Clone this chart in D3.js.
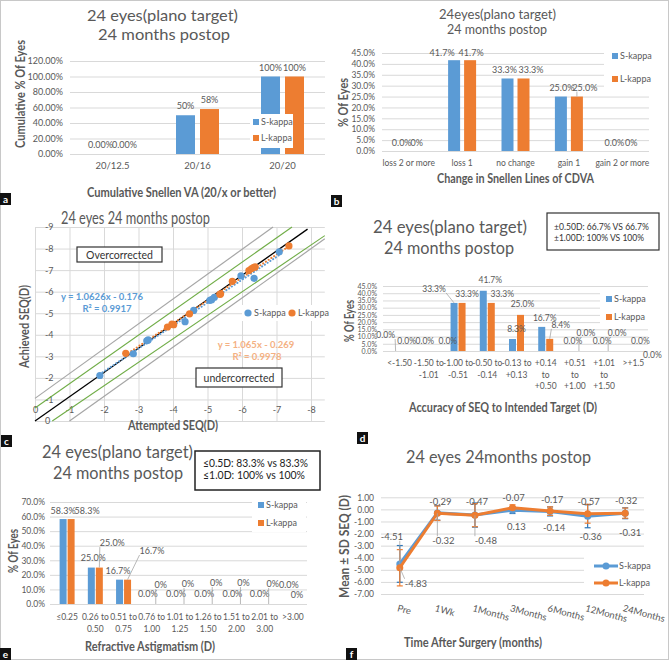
<!DOCTYPE html>
<html><head><meta charset="utf-8">
<script src="https://cdn.jsdelivr.net/npm/d3@7"></script>
<style>body{margin:0;background:#fff} svg{display:block} text{font-family:Lato,"Open Sans",sans-serif}</style>
</head><body><svg id="c" width="669" height="660"></svg>
<script>
// ---------------- DATA ----------------
const seriesNames = ["S-kappa","L-kappa"];
// (a) cumulative Snellen VA
const snellenCats = ["20/12.5","20/16","20/20"];
const snellenS = [0,50,100];
const snellenL = [0,58,100];
const snellenLabelsS = ["0.00%","50%","100%"];
const snellenLabelsL = ["0.00%","58%","100%"];
const snellenTicks = [0,20,40,60,80,100,120];
// (b) change in Snellen lines of CDVA
const cdvaCats = ["loss 2 or more","loss 1","no change","gain 1","gain 2 or more"];
const cdvaS = [0,41.7,33.3,25.0,0];
const cdvaL = [0,41.7,33.3,25.0,0];
const cdvaLabelsS = ["0.0%","41.7%","33.3%","25.0%","0.0%"];
const cdvaLabelsL = ["0%","41.7%","33.3%","25.0%","0%"];
const cdvaTicks = [0,5,10,15,20,25,30,35,40,45];
// (c) attempted vs achieved SEQ
const attemptedS = [-1.88,-2.85,-3.24,-3.28,-4.35,-4.6,-5.07,-5.12,-5.2,-5.97,-6.35,-7.08];
const achievedS  = [-2.11,-3.12,-3.72,-3.76,-4.61,-5.13,-5.6,-5.63,-5.74,-6.73,-6.62,-7.85];
const attemptedL = [-2.63,-3.84,-3.97,-4.02,-4.48,-5.36,-5.38,-5.72,-6.2,-6.27,-6.33,-6.38,-7.36];
const achievedL  = [-3.14,-4.36,-4.49,-4.47,-4.97,-5.87,-5.9,-6.48,-6.98,-7.06,-7.12,-7.15,-8.12];
const trendS = {slope:1.0626, intercept:-0.176, r2:"0.9917"};
const trendL = {slope:1.065, intercept:-0.269, r2:"0.9978"};
const seqTicksX = [0,-1,-2,-3,-4,-5,-6,-7,-8];
const seqTicksY = [0,-1,-2,-3,-4,-5,-6,-7,-8,-9];
// reference lines as drawn in the figure: [x1,y1,x2,y2]
const refBlack = [0,0,-7.9,-8.9];
const refGreen = [[0,-0.6,-7.45,-9.0],[-0.5,0,-8.4,-8.6]];
const refGray  = [[0,-1.05,-6.9,-9.0],[-1,0,-8.4,-8.45]];
// (d) accuracy of SEQ
const accCats = ["<-1.50","-1.50 to -1.01","-1.00 to -0.51","-0.50 to -0.14","-0.13 to +0.13","+0.14 to +0.50","+0.51 to +1.00","+1.01 to +1.50",">+1.5"];
const accS = [0,0,33.3,41.7,8.3,16.7,0,0,0];
const accL = [0,0,33.3,33.3,25.0,8.4,0,0,0];
const accLabelsS = ["0.0%","0.0%","33.3%","41.7%","8.3%","16.7%","0.0%","0.0%","0.0%"];
const accLabelsL = ["0.0%","0.0%","33.3%","33.3%","25.0%","8.4%","0.0%","0.0%","0.0%"];
const accTicks = [0,5,10,15,20,25,30,35,40,45];
// (e) refractive astigmatism
const astigCats = ["≤0.25","0.26 to 0.50","0.51 to 0.75","0.76 to 1.00","1.01 to 1.25","1.26 to 1.50","1.51 to 2.00","2.01 to 3.00",">3.00"];
const astigS = [58.3,25.0,16.7,0,0,0,0,0,0];
const astigL = [58.3,25.0,16.7,0,0,0,0,0,0];
const astigLabelsS = ["58.3%","25.0%","16.7%","0.0%","0.0%","0.0%","0.0%","0.0%","0.0%"];
const astigLabelsL = ["58.3%","25.0%","16.7%","0%","0%","0%","0%","0%","0%"];
const astigTicks = [0,10,20,30,40,50,60,70];
// (f) mean ± SD SEQ over time
const timeCats = ["Pre","1Wk","1Months","3Months","6Months","12Months","24Months"];
const meanS = [-4.51,-0.29,-0.47,-0.07,-0.17,-0.57,-0.32];
const meanL = [-4.83,-0.32,-0.48,0.13,-0.14,-0.36,-0.31];
const sdS = [1.52,0.6,1.0,0.27,0.37,0.95,0.45];
const sdL = [1.5,0.6,0.95,0.25,0.35,0.78,0.42];
const timeTicks = [1,0,-1,-2,-3,-4,-5,-6,-7];

// ---------------- STYLE ----------------
const svg = d3.select("#c");
const GRAY="#595959", GRID="#d9d9d9", BLUE="#5B9BD5", ORANGE="#ED7D31", FONT='Lato,"Open Sans",sans-serif';

function txt(x,y,s,o={}){
  const t=svg.append("text").attr("x",x).attr("y",y).text(s)
    .attr("fill",o.fill||GRAY).attr("font-size",o.size||9)
    .attr("text-anchor",o.anchor||"middle");
  if(o.weight) t.attr("font-weight",o.weight);
  if(o.len) t.attr("textLength",o.len).attr("lengthAdjust","spacingAndGlyphs");
  if(o.rotate!==undefined) t.attr("transform",`rotate(${o.rotate},${x},${y})`);
  return t;
}
function leader(t,bx,by){
  const bb=t.node().getBBox();
  const px=Math.max(bb.x,Math.min(bx,bb.x+bb.width));
  let py = by>bb.y+bb.height ? bb.y+bb.height-1 : (by<bb.y ? bb.y+1 : by);
  svg.append("line").attr("x1",px).attr("y1",py).attr("x2",bx).attr("y2",by)
    .attr("stroke","#a6a6a6").attr("stroke-width",0.8);
}
function styleAxis(g,size){
  g.attr("font-family",FONT).attr("font-size",size);
  g.select(".domain").remove();
  g.selectAll(".tick line").attr("stroke",GRID);
  g.selectAll(".tick text").attr("fill",GRAY);
}
const pct = k => d => d.toFixed(k)+"%";

function barPanel(o){
  const x=d3.scaleBand().domain(o.cats).range(o.xr);
  const y=d3.scaleLinear().domain([0,o.ymax]).range([o.yb,o.yt]);
  const g=svg.append("g").attr("transform",`translate(${o.gx[0]},0)`)
    .call(d3.axisLeft(y).tickValues(o.ticks).tickFormat(o.fmt).tickSize(-(o.gx[1]-o.gx[0])).tickPadding(o.pad));
  styleAxis(g,o.tickSize);
  const cx=(i,k)=>x(o.cats[i])+x.bandwidth()/2+(k-0.5)*(o.barW+o.gap);
  o.series.forEach((vals,k)=>{
    svg.append("g").selectAll("rect").data(vals).join("rect")
      .attr("x",(d,i)=>cx(i,k)-o.barW/2).attr("width",o.barW)
      .attr("y",d=>y(d)).attr("height",d=>o.yb-y(d))
      .attr("fill",[BLUE,ORANGE][k]);
  });
  o.cats.forEach(c=>{
    const lines=o.wrap?o.wrap(c):[c];
    lines.forEach((l,j)=>txt(x(c)+x.bandwidth()/2,o.catY+j*o.catLH,l,{size:o.catSize}));
  });
  return {x,y,cx};
}
function barLabels(P,vals,labels,k,offs,size){
  vals.forEach((v,i)=>{
    const bx=P.cx(i,k), by=P.y(v);
    const [dx,dy,ld]=offs[i];
    const t=txt(bx+dx,by+dy,labels[i],{size});
    if(ld) leader(t,bx,by);
  });
}
function squareLegend(x,y1,y2,bg){
  if(bg) svg.append("rect").attr("x",bg[0]).attr("y",bg[1]).attr("width",bg[2]).attr("height",bg[3]).attr("fill","#fff");
  [y1,y2].forEach((yy,k)=>{
    svg.append("rect").attr("x",x).attr("y",yy-3).attr("width",6).attr("height",6).attr("fill",[BLUE,ORANGE][k]);
    txt(x+8,yy+3,seriesNames[k],{size:9,anchor:"start"});
  });
}
function panelTag(x,y,s){
  svg.append("rect").attr("x",x).attr("y",y).attr("width",11).attr("height",12).attr("fill","#111");
  txt(x+5.5,y+9.5,s,{size:10,fill:"#fff",weight:"bold"});
}

// frame
svg.append("rect").attr("x",0.5).attr("y",0.5).attr("width",668).attr("height",659).attr("fill","none").attr("stroke","#c8c8c8");

// ---------------- (a) ----------------
txt(162.5,21,"24 eyes(plano target)",{size:16,len:151});
txt(164,40,"24 months postop",{size:16,len:132});
{
  const P=barPanel({cats:snellenCats,series:[snellenS,snellenL],xr:[70,325],gx:[70,325],yb:154,yt:61,ymax:120,
    ticks:snellenTicks,fmt:pct(2),pad:7,tickSize:9,barW:19,gap:5,catY:169,catLH:0,catSize:9.5});
  const o=snellenS.map(()=>[0,-6]);
  barLabels(P,snellenS,snellenLabelsS,0,o,9);
  barLabels(P,snellenL,snellenLabelsL,1,o,9);
  squareLegend(253,122,138,[250,114,43,34]);
}
txt(181.5,197,"Cumulative Snellen VA (20/x or better)",{size:12.5,weight:"bold",len:189});
txt(25,94,"Cumulative % Of Eyes",{size:13,weight:"bold",len:108,rotate:-90});
panelTag(0,193,"a");

// ---------------- (b) ----------------
txt(497.5,18.5,"24eyes(plano target)",{size:13,len:117});
txt(497,34,"24 months postop",{size:13,len:100});
{
  const P=barPanel({cats:cdvaCats,series:[cdvaS,cdvaL],xr:[382,649],gx:[382,649],yb:151,yt:53,ymax:45,
    ticks:cdvaTicks,fmt:pct(1),pad:7,tickSize:8.5,barW:12,gap:4,catY:166,catLH:0,catSize:8.5});
  barLabels(P,cdvaS,cdvaLabelsS,0,[[1,-5],[-12,-4.5],[-3,-5.5],[1,-5.5],[0,-5]],9);
  barLabels(P,cdvaL,cdvaLabelsL,1,[[0,-5],[1,-4.5],[7.5,-5.5],[8,-6,1],[1,-5]],9);
  squareLegend(612,56,79,[604,44,56,45]);
}
txt(515.5,183,"Change in Snellen Lines of CDVA",{size:12.5,weight:"bold",len:157});
txt(348,102.5,"% Of Eyes",{size:12.5,weight:"bold",len:49,rotate:-90});
panelTag(331,195,"b");

// ---------------- (c) ----------------
txt(135.5,224,"24 eyes 24 months postop",{size:16.5,len:149});
{
  const xs=d3.scaleLinear().domain([0,-8]).range([35,311]);
  const ys=d3.scaleLinear().domain([0,-9]).range([421,227]);
  const gx=svg.append("g").attr("transform","translate(0,421)")
    .call(d3.axisBottom(xs).tickValues(seqTicksX).tickFormat(d=>String(d)).tickSize(-(421-227)).tickPadding(-14.5));
  styleAxis(gx,9);
  const gy=svg.append("g").attr("transform","translate(35,0)")
    .call(d3.axisLeft(ys).tickValues(seqTicksY).tickFormat(d=>String(d)).tickSize(-(xs(-8.4)-35)).tickPadding(-10));
  styleAxis(gy,9);
  gy.selectAll(".tick text").attr("text-anchor","start");
  const seg=(a,col,w)=>svg.append("line").attr("x1",xs(a[0])).attr("y1",ys(a[1])).attr("x2",xs(a[2])).attr("y2",ys(a[3]))
    .attr("stroke",col).attr("stroke-width",w);
  refGray.forEach(a=>seg(a,"#a6a6a6",1.2));
  refGreen.forEach(a=>seg(a,"#70AD47",1.1));
  seg(refBlack,"#000",1.3);
  const trend=(tr,xsArr,col)=>{
    const x0=d3.max(xsArr), x1=d3.min(xsArr);
    svg.append("line").attr("x1",xs(x0)).attr("y1",ys(tr.slope*x0+tr.intercept))
      .attr("x2",xs(x1)).attr("y2",ys(tr.slope*x1+tr.intercept))
      .attr("stroke",col).attr("stroke-width",2).attr("stroke-dasharray","0.1,3.2").attr("stroke-linecap","round");
  };
  trend(trendS,attemptedS,BLUE);
  trend(trendL,attemptedL,ORANGE);
  svg.append("g").selectAll("circle").data(attemptedS).join("circle")
    .attr("cx",d=>xs(d)).attr("cy",(d,i)=>ys(achievedS[i])).attr("r",3.6).attr("fill",BLUE);
  svg.append("g").selectAll("circle").data(attemptedL).join("circle")
    .attr("cx",d=>xs(d)).attr("cy",(d,i)=>ys(achievedL[i])).attr("r",3.6).attr("fill",ORANGE);
  // equations
  txt(102,300,`y = ${trendS.slope}x - ${Math.abs(trendS.intercept)}`,{size:9.5,fill:BLUE,weight:"bold"});
  txt(107,311.5,`R² = ${trendS.r2}`,{size:9.5,fill:BLUE,weight:"bold"});
  txt(256,348,`y = ${trendL.slope}x - ${Math.abs(trendL.intercept)}`,{size:9.5,fill:"#F4B183",weight:"bold"});
  txt(257,360,`R² = ${trendL.r2}`,{size:9.5,fill:"#F4B183",weight:"bold"});
  // boxes
  svg.append("rect").attr("x",77).attr("y",247).attr("width",85).attr("height",15).attr("fill","#fff").attr("stroke","#333").attr("stroke-width",1.2);
  txt(119.5,258.5,"Overcorrected",{size:10.5,fill:"#333"});
  svg.append("rect").attr("x",196).attr("y",368).attr("width",86).attr("height",19).attr("fill","#fff").attr("stroke","#333").attr("stroke-width",1.2);
  txt(239,381.5,"undercorrected",{size:10.5,fill:"#333"});
  // legend
  svg.append("rect").attr("x",242).attr("y",305).attr("width",86).attr("height",16).attr("fill","#fff");
  svg.append("circle").attr("cx",248).attr("cy",313).attr("r",3.6).attr("fill",BLUE);
  txt(254,316,seriesNames[0],{size:9,anchor:"start"});
  svg.append("circle").attr("cx",292).attr("cy",313).attr("r",3.6).attr("fill",ORANGE);
  txt(298,316,seriesNames[1],{size:9,anchor:"start"});
}
txt(173,430,"Attempted SEQ(D)",{size:12.5,weight:"bold",len:90});
txt(29,326.5,"Achieved SEQ(D)",{size:12.5,weight:"bold",len:83,rotate:-90});
panelTag(1,435,"c");

// ---------------- (d) ----------------
txt(450,233,"24 eyes(plano target)",{size:18,len:154});
txt(449,254,"24 months postop",{size:18,len:130});
svg.append("rect").attr("x",547).attr("y",213).attr("width",112).attr("height",37).attr("fill","#fff").attr("stroke","#333").attr("stroke-width",1.2);
txt(554,230,"±0.50D:  66.7% VS 66.7%",{size:8.5,anchor:"start",fill:"#333",len:95});
txt(554,241,"±1.00D:  100% VS 100%",{size:8.5,anchor:"start",fill:"#333",len:90});
{
  const wrapD=c=>{ if(!c.includes(" to ")) return [c]; const p=c.split(" to "); return c[0]==="+"?[p[0],"to",p[1]]:[p[0]+" to",p[1]]; };
  const P=barPanel({cats:accCats,series:[accS,accL],xr:[385,648],gx:[383,648],yb:351,yt:286,ymax:45,
    ticks:accTicks,fmt:pct(1),pad:6,tickSize:7,barW:7,gap:1,catY:366,catLH:11.5,catSize:8.5,wrap:wrapD});
  squareLegend(606,299,317,[600,290,48,35]);
  barLabels(P,accS,accLabelsS,0,[[-10,-13,1],[0,-7],[-20,-11,1],[7,-8],[4,-7],[3,-6],[2,-7],[2,-7],[11,-7]],8.5);
  barLabels(P,accL,accLabelsL,1,[[3,-7],[15,-7],[5,-6],[11,-6],[2,-8],[11,-11,1],[7,-15,1],[9,-15,1],[15,7]],8.5);
}
txt(503,412,"Accuracy of SEQ to Intended Target (D)",{size:12.5,weight:"bold",len:188});
txt(354,321,"% Of Eyes",{size:12.5,weight:"bold",len:42,rotate:-90});
panelTag(357,432,"d");

// ---------------- (e) ----------------
txt(117.5,458,"24 eyes(plano target)",{size:18,len:151});
txt(118,479,"24 months postop",{size:18,len:130});
{
  const wrapE=c=>{ if(!c.includes(" to ")) return [c]; const p=c.split(" to "); return [p[0]+" to",p[1]]; };
  const P=barPanel({cats:astigCats,series:[astigS,astigL],xr:[53,307],gx:[50,307],yb:604,yt:502,ymax:70,
    ticks:astigTicks,fmt:pct(1),pad:5,tickSize:8.5,barW:7,gap:1,catY:620,catLH:11.5,catSize:8.5,wrap:wrapE});
  squareLegend(258,505,523,[252,496,54,36]);
  const oS=[[0,-5],[2,-6.5],[-1.5,-5.7],[0,-7],[0,-7],[0,-7],[0,-7],[-1,-7],[0,-16]];
  const oL=[[16,-5],[13,-21.5,1],[24.5,-25.7,1],[5,-16,1],[4,-17,1],[4,-18,1],[3,-18,1],[4,-17,1],[0,-6]];
  barLabels(P,astigS,astigLabelsS,0,oS,9);
  barLabels(P,astigL,astigLabelsL,1,oL,9);
}
svg.append("rect").attr("x",195).attr("y",451).attr("width",125).attr("height",39).attr("fill","#fff").attr("stroke","#222").attr("stroke-width",1.5);
txt(203,467,"≤0.5D:  83.3% vs 83.3%",{size:10.5,anchor:"start",fill:"#222",len:105});
txt(203,479,"≤1.0D:  100% vs 100%",{size:10.5,anchor:"start",fill:"#222",len:102});
txt(150,651,"Refractive Astigmatism (D)",{size:12.5,weight:"bold",len:130});
txt(18,551,"% Of Eyes",{size:12.5,weight:"bold",len:44,rotate:-90});
panelTag(0,648,"e");

// ---------------- (f) ----------------
txt(498.5,463,"24 eyes 24months postop",{size:18,len:185});
{
  const xf=d3.scaleBand().domain(timeCats).range([381,644]);
  const yf=d3.scaleLinear().domain([-7,1]).range([594,497.3]);
  const g=svg.append("g").attr("transform","translate(381,0)")
    .call(d3.axisLeft(yf).tickValues(timeTicks).tickFormat(d=>d.toFixed(2)).tickSize(-(644-381)).tickPadding(7));
  styleAxis(g,8.5);
  const cx=c=>xf(c)+xf.bandwidth()/2;
  timeCats.forEach(c=>txt(cx(c)-3,611,c,{size:9.5,anchor:"start",rotate:15}));
  // legend background covering lower grid lines
  svg.append("rect").attr("x",584).attr("y",553).attr("width",60).attr("height",40).attr("fill","#fff");
  const drawSeries=(means,sds,col,ecol)=>{
    const eg=svg.append("g").attr("stroke",ecol).attr("stroke-width",1.2);
    means.forEach((m,i)=>{
      const x=cx(timeCats[i]);
      eg.append("line").attr("x1",x).attr("x2",x).attr("y1",yf(m+sds[i])).attr("y2",yf(m-sds[i]));
      [m+sds[i],m-sds[i]].forEach(v=>eg.append("line").attr("x1",x-3).attr("x2",x+3).attr("y1",yf(v)).attr("y2",yf(v)));
    });
  };
  drawSeries(meanS,sdS,BLUE,"#2E75B6");
  drawSeries(meanL,sdL,ORANGE,ORANGE);
  const line=d3.line().x((d,i)=>cx(timeCats[i])).y(d=>yf(d));
  [[meanS,BLUE],[meanL,ORANGE]].forEach(([m,col])=>{
    svg.append("path").datum(m).attr("d",line).attr("fill","none").attr("stroke",col).attr("stroke-width",3);
    svg.append("g").selectAll("circle").data(m).join("circle")
      .attr("cx",(d,i)=>cx(timeCats[i])).attr("cy",d=>yf(d)).attr("r",3.5).attr("fill",col);
  });
  const offS=[[-8,-24,1],[3,-8],[2,-10],[1,-9],[2,-8],[1,-11],[1,-9]];
  const offL=[[16,19,1],[6,31,1],[11,29,1],[4,22],[4,20],[3,26],[5,23]];
  const labs=(m,offs)=>m.forEach((v,i)=>{
    const bx=cx(timeCats[i]), by=yf(v), [dx,dy,ld]=offs[i];
    const t=txt(bx+dx,by+dy,v.toFixed(2),{size:9.5});
    if(ld) leader(t,bx,by);
  });
  labs(meanS,offS); labs(meanL,offL);
  [[566,BLUE],[583,ORANGE]].forEach(([yy,col],k)=>{
    svg.append("line").attr("x1",594).attr("x2",618).attr("y1",yy).attr("y2",yy).attr("stroke",col).attr("stroke-width",3);
    svg.append("circle").attr("cx",606).attr("cy",yy).attr("r",3.5).attr("fill",col);
    txt(619,yy+3,seriesNames[k],{size:9,anchor:"start"});
  });
}
txt(473,647,"Time After Surgery (months)",{size:12.5,weight:"bold",len:138});
txt(349,546.5,"Mean ± SD SEQ (D)",{size:12.5,weight:"bold",len:103,rotate:-90});
panelTag(346,648,"f");
</script></body></html>
